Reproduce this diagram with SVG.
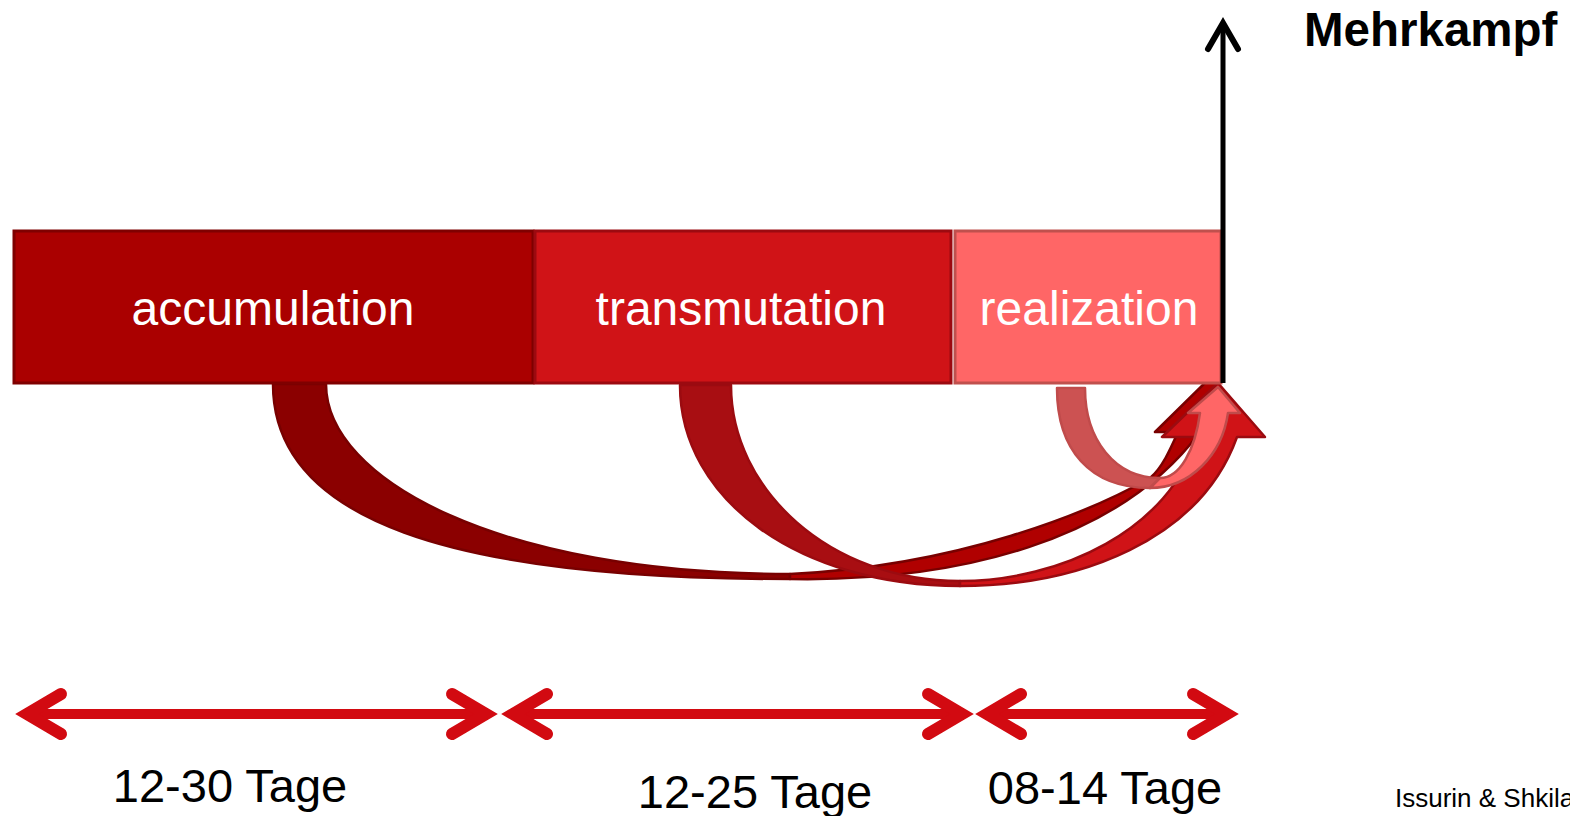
<svg xmlns="http://www.w3.org/2000/svg" width="1570" height="816" viewBox="0 0 1570 816">
<style>
.bar{stroke-width:3}
.lbl{font-family:"Liberation Sans",Arial,sans-serif;font-size:48px;fill:#fff;text-anchor:middle}
.days{font-family:"Liberation Sans",Arial,sans-serif;font-size:47px;fill:#000;text-anchor:middle}
.cur{stroke-width:2.5;stroke-linejoin:round}
.span{fill:none;stroke:#D20A11;stroke-width:10}
.head{fill:none;stroke:#D20A11;stroke-width:12;stroke-linecap:round;stroke-linejoin:miter}
</style>
<rect width="1570" height="816" fill="#fff"/>
<g id="connectors">
  <g id="arrow-accumulation" class="cur" stroke="#780000">
    <path fill="#8B0000" d="M273,384 C273,520 450,579 790,579 L790,574 C500,574 326,480 326,384 Z"/>
    <path fill="#B00000" d="M790,579 C960,582 1120,540 1200,432 L1258,432 L1211,377 L1155,432 L1178,432 C1170,450 1162,468 1150,478 C1090,512 960,566 790,574 Z"/>
  </g>
  <g id="arrow-transmutation" class="cur" stroke="#9B0B10">
    <path fill="#A80E12" d="M680,385 C680,500 800,586 960,586 L960,581 C830,581 731,490 731,385 Z"/>
    <path fill="#D01317" d="M960,586 C1080,586 1200,540 1237,437 L1265,437 L1218,383 L1162,437 L1197,437 C1170,530 1060,581 960,581 Z"/>
  </g>
  <g id="arrow-realization" class="cur" stroke="#C04B4B">
    <path fill="#CC5252" d="M1057,388 C1057,450 1090,488 1150,488 L1160,478 C1115,478 1085,440 1085,388 Z"/>
    <path fill="#FF6666" d="M1150,488 C1190,488 1222,455 1228,413 L1240,413 L1218,387 L1188,413 L1200,413 C1195,450 1180,478 1160,478 Z"/>
  </g>
  <g id="span-1">
    <line class="span" x1="27" y1="714" x2="486" y2="714"/>
    <polyline class="head" points="61,694 27,714 61,734"/>
    <polyline class="head" points="452,694 486,714 452,734"/>
  </g>
  <g id="span-2">
    <line class="span" x1="513" y1="714" x2="962" y2="714"/>
    <polyline class="head" points="547,694 513,714 547,734"/>
    <polyline class="head" points="928,694 962,714 928,734"/>
  </g>
  <g id="span-3">
    <line class="span" x1="987" y1="714" x2="1227" y2="714"/>
    <polyline class="head" points="1021,694 987,714 1021,734"/>
    <polyline class="head" points="1193,694 1227,714 1193,734"/>
  </g>
</g>
<g id="bar-accumulation">
  <rect class="bar" x="14" y="231" width="519" height="152" fill="#AA0000" stroke="#7F0000"/>
  <text class="lbl" x="273" y="325">accumulation</text>
</g>
<g id="bar-transmutation">
  <rect class="bar" x="535" y="231" width="416" height="152" fill="#D01317" stroke="#9C0A10"/>
  <text class="lbl" x="741" y="325">transmutation</text>
</g>
<g id="bar-realization">
  <rect class="bar" x="955" y="231" width="266" height="152" fill="#FF6666" stroke="#C0504D"/>
  <text class="lbl" x="1089" y="325">realization</text>
</g>
<g id="axis">
  <line x1="1223" y1="383" x2="1223" y2="24" stroke="#000" stroke-width="5"/>
  <polyline points="1208,49 1223,23 1238,49" fill="none" stroke="#000" stroke-width="6" stroke-linecap="round" stroke-linejoin="miter"/>
</g>
<g id="title">
  <text x="1304" y="46" font-family="Liberation Sans,Arial,sans-serif" font-size="47.5" font-weight="bold" fill="#000">Mehrkampf</text>
</g>
<g id="label-1"><text class="days" x="230" y="802">12-30 Tage</text></g>
<g id="label-2"><text class="days" x="755" y="808">12-25 Tage</text></g>
<g id="label-3"><text class="days" x="1105" y="804">08-14 Tage</text></g>
<g id="source">
  <text x="1395" y="807" font-family="Liberation Sans,Arial,sans-serif" font-size="26" fill="#000">Issurin &amp; Shkila</text>
</g>
</svg>
